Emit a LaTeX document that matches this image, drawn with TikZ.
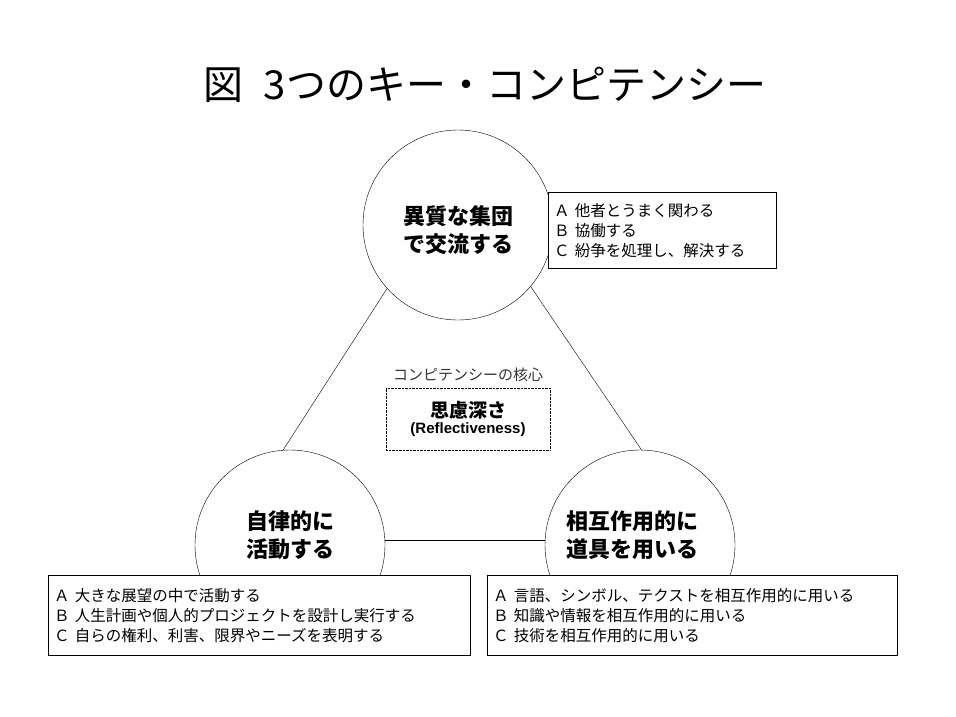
\documentclass[tikz,border=0pt]{standalone}
\usepackage{fontspec}
\setmainfont{Noto Sans CJK JP}
\setsansfont{Liberation Sans}
\begin{document}
\begin{tikzpicture}[x=1pt,y=-1pt,
  circ/.style={circle,draw,fill=white,minimum size=190pt,inner sep=0pt},
  ctext/.style={font=\fontsize{22}{28}\selectfont\bfseries,align=left},
  list/.style={draw,fill=white,align=left,anchor=north west,font=\fontsize{15.5}{20}\selectfont,inner xsep=6pt,inner ysep=4pt},
  every node/.style={inner sep=0pt}]
\useasboundingbox[fill=white] (0,0) rectangle (956,716);
\node (title) at (485,85) {\fontsize{40}{44}\selectfont 図\hspace{0.5em}3つのキー・コンピテンシー};
\coordinate (l1) at (444,200); \coordinate (l2) at (222,545);
\coordinate (r1) at (472,200); \coordinate (r2) at (706,545);
\coordinate (b1) at (290,540); \coordinate (b2) at (640,540);
\draw (l1) -- (l2); \draw (r1) -- (r2); \draw (b1) -- (b2);
\node[circ] (top) at (458,225) {};
\node[circ] (bl) at (290,545) {};
\node[circ] (br) at (640,545) {};
\node[ctext] (tt) at (458,230) {異質な集団\\で交流する};
\node[ctext] (blt) at (290,535) {自律的に\\活動する};
\node[ctext] (brt) at (632,535) {相互作用的に\\道具を用いる};
\node[list,text width=216pt,minimum height=76pt] (tbox) at (548,192) {Ａ 他者とうまく関わる\\Ｂ 協働する\\Ｃ 紛争を処理し、解決する};
\node[list,text width=410pt,minimum height=80pt] (lbox) at (48,575) {Ａ 大きな展望の中で活動する\\Ｂ 人生計画や個人的プロジェクトを設計し実行する\\Ｃ 自らの権利、利害、限界やニーズを表明する};
\node[list,text width=398pt,minimum height=80pt] (rbox) at (487,575) {Ａ 言語、シンボル、テクストを相互作用的に用いる\\Ｂ 知識や情報を相互作用的に用いる\\Ｃ 技術を相互作用的に用いる};
\node[draw,densely dotted,fill=white,minimum width=164pt,minimum height=62pt] (core) at (468,419) {};
\node[align=center] (coret) at (468,419) {{\fontsize{19}{24}\selectfont\bfseries 思慮深さ}\\[2pt]{\sffamily\bfseries\fontsize{15}{18}\selectfont (Reflectiveness)}};
\node[font=\fontsize{15}{18}\selectfont\color{black!80}] (corelab) at (468,375) {コンピテンシーの核心};
\end{tikzpicture}
\end{document}
